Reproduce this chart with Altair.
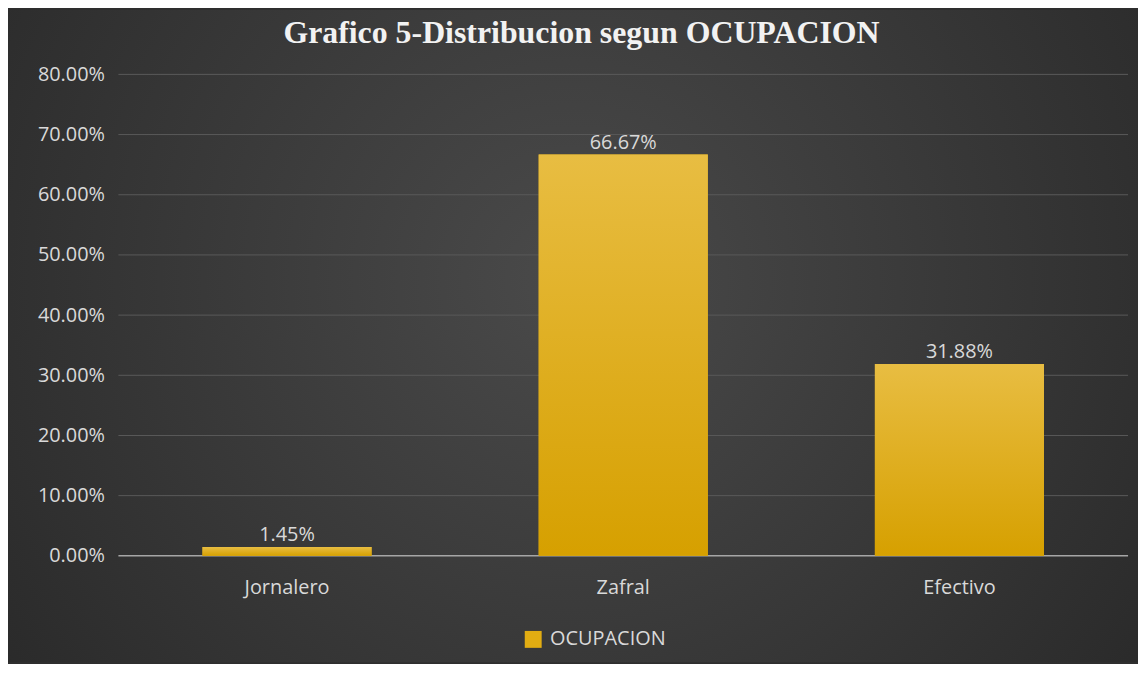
import altair as alt
import pandas as pd

categories = ["Jornalero", "Zafral", "Efectivo"]
values = [0.0145, 0.6667, 0.3188]
value_labels = ["1.45%", "66.67%", "31.88%"]
series_name = "OCUPACION"
y_ticks = [0.0, 0.1, 0.2, 0.3, 0.4, 0.5, 0.6, 0.7, 0.8]
title_text = "Grafico 5-Distribucion segun OCUPACION"

W, H = 1015, 484
PAD = {"left": 111, "top": 65, "right": 10, "bottom": 107}

df = pd.DataFrame({"cat": categories, "val": values, "lab": value_labels,
                   "serie": [series_name] * len(categories)})
grid_df = pd.DataFrame({"val": [t for t in y_ticks if t > 0]})
base_df = pd.DataFrame({"val": [0.0]})

FONT = "Open Sans"
TXT = "#d9d9d9"

yscale = alt.Scale(domain=[0, 0.8], nice=False, zero=True)
xscale = alt.Scale(paddingInner=0.497, paddingOuter=0.25)

yaxis = alt.Axis(title=None, format=".2%", values=y_ticks, domain=False,
                 ticks=False, tickSize=0, labelPadding=14, labelFont=FONT,
                 labelFontSize=20, labelColor=TXT, grid=False, zindex=1)
xaxis = alt.Axis(title=None, labelAngle=0, domain=False, ticks=False, tickSize=0,
                 labelPadding=22, labelFont=FONT, labelFontSize=20,
                 labelColor=TXT, grid=False, zindex=1)

X = alt.X("cat:N", sort=categories, scale=xscale, axis=xaxis)
Y = alt.Y("val:Q", scale=yscale, axis=yaxis)

bg = alt.Chart(pd.DataFrame({"a": [0]})).mark_rect(
    fill={"gradient": "radial", "x1": 0.5, "y1": 0.45, "r1": 0.0,
          "x2": 0.5, "y2": 0.45, "r2": 0.75,
          "stops": [{"offset": 0, "color": "#4a4a4a"},
                    {"offset": 1, "color": "#232323"}]}
).encode(
    x=alt.value(-PAD["left"]), x2=alt.value(W + PAD["right"]),
    y=alt.value(-PAD["top"]), y2=alt.value(H + PAD["bottom"])
)

grid = alt.Chart(grid_df).mark_rule(color="#5a5a5a", strokeWidth=1).encode(y=Y)
baseline = alt.Chart(base_df).mark_rule(color="#a6a6a6", strokeWidth=1.5).encode(y=Y)

bars_legend = alt.Chart(df).mark_bar().encode(
    x=X, y=Y,
    color=alt.Color("serie:N", scale=alt.Scale(range=["#e2ad12"]),
                    legend=alt.Legend(title=None, orient="none", legendX=407, legendY=558,
                                      symbolType="square", symbolSize=289,
                                      symbolStrokeWidth=0, padding=0, labelOffset=7,
                                      labelFont=FONT, labelFontSize=20, labelColor=TXT))
)

bars = alt.Chart(df).mark_bar(
    fill={"gradient": "linear", "x1": 0, "y1": 0, "x2": 0, "y2": 1,
          "stops": [{"offset": 0, "color": "#e8bd42"},
                    {"offset": 1, "color": "#d6a000"}]}
).encode(x=X, y=Y)

text = alt.Chart(df).mark_text(baseline="alphabetic", dy=-6, font=FONT, fontSize=20,
                               color=TXT).encode(x=X, y=Y, text="lab:N")

chart = alt.layer(bg, grid, baseline, bars_legend, bars, text).properties(
    width=W, height=H,
    padding=PAD,
    autosize=alt.AutoSizeParams(type="none"),
    background="#2e2e2e",
    title=alt.TitleParams(title_text, font="Liberation Serif", fontSize=32,
                          fontWeight="bold", color="#f2f2f2", anchor="middle",
                          dx=-42, offset=-40),
).configure_view(stroke=None)

chart.save("out.html", embed_options={"renderer": "svg", "actions": False})
